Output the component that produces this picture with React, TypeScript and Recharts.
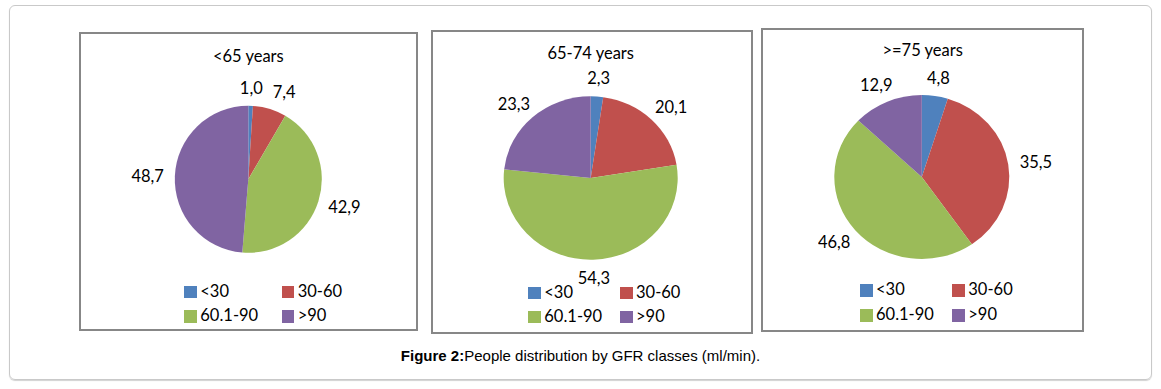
import React from 'react';
import { PieChart, Pie, Cell } from 'recharts';

// GFR classes (ml/min) and Excel default palette
const categories = ['<30', '30-60', '60.1-90', '>90'];
const colors = ['#4F81BD', '#C0504D', '#9BBB59', '#8064A2'];

const titles = ['<65 years', '65-74 years', '>=75 years'];

// % of people in each GFR class per age group
const under65 = [1.0, 7.4, 42.9, 48.7];
const age65to74 = [2.3, 20.1, 54.3, 23.3];
const over75 = [4.8, 35.5, 46.8, 12.9];

const FONT = 'Lato, "Open Sans", sans-serif';
const FS = 16.5;
const GAP = 11;

const fmt = (v: number) => v.toFixed(1).replace('.', ',');

const textWidth = (s: string) =>
  s.split('').reduce((w, ch) => w + (ch === ',' ? 0.23 : 0.58), 0) * FS;

// label offsets from the pie centre (screen px), pushed apart if two collide
function labelOffsets(values: number[], r: number, sx: number) {
  const total = values.reduce((a, b) => a + b, 0);
  let acc = 0;
  const boxes = values.map((v) => {
    const mid = ((acc + v / 2) / total) * 2 * Math.PI;
    acc += v;
    const dx = Math.sin(mid);
    const dy = -Math.cos(mid);
    const w = textWidth(fmt(v));
    const h = 14;
    return { x: dx * (r + GAP) * sx + (dx * w) / 2, y: dy * (r + GAP) + (dy * h) / 2, w, h };
  });
  for (let i = 1; i < boxes.length; i++) {
    const a = boxes[i - 1];
    const b = boxes[i];
    const need = (a.w + b.w) / 2 + 10;
    if (Math.abs(a.y - b.y) < (a.h + b.h) / 2 && Math.abs(a.x - b.x) < need) {
      b.x = a.x + (b.x >= a.x ? need : -need);
    }
  }
  return boxes;
}

const panels = [
  {
    values: under65, title: titles[0],
    box: { left: 79, top: 32, w: 339, h: 299 },
    pie: { x: 248.3, y: 179.3, r: 73.5, sx: 1 },
    titleX: 248.3, titleBase: 63.3,
    legendCols: [184.3, 281.7], legendBase: [298.3, 322.7],
  },
  {
    values: age65to74, title: titles[1],
    box: { left: 431, top: 30, w: 322, h: 304 },
    pie: { x: 590.7, y: 178, r: 81.7, sx: 1.065 },
    titleX: 590.7, titleBase: 60,
    legendCols: [528.3, 620], legendBase: [299.3, 323.3],
  },
  {
    values: over75, title: titles[2],
    box: { left: 761, top: 28, w: 323, h: 304 },
    pie: { x: 921.8, y: 177, r: 82, sx: 1.067 },
    titleX: 922.7, titleBase: 57.7,
    legendCols: [860, 952.3], legendBase: [296.7, 321.7],
  },
];

const BORDER = 2;

function Panel({ cfg }: { cfg: (typeof panels)[number] }) {
  const { box, pie } = cfg;
  const ox = box.left + BORDER;
  const oy = box.top + BORDER;
  const data = categories.map((name, i) => ({ name, value: cfg.values[i] }));
  const offsets = labelOffsets(cfg.values, pie.r, pie.sx);

  const renderLabel = (p: any) => {
    const o = offsets[p.index];
    return (
      <text
        key={`lbl-${p.index}`}
        x={p.cx * pie.sx + o.x}
        y={p.cy + o.y + 0.36 * FS}
        transform={`scale(${1 / pie.sx},1)`}
        textAnchor="middle"
        fontFamily={FONT}
        fontSize={FS}
        fill="#000"
      >
        {fmt(cfg.values[p.index])}
      </text>
    );
  };

  const lineH = FS * 1.2;
  return (
    <div
      style={{
        position: 'absolute', left: box.left, top: box.top, width: box.w, height: box.h,
        border: `${BORDER}px solid #878787`, boxSizing: 'border-box', background: '#fff',
      }}
    >
      <div style={{ position: 'absolute', left: 0, top: 0, transform: `scaleX(${pie.sx})`, transformOrigin: '0 0' }}>
        <PieChart
          width={(box.w - 2 * BORDER) / pie.sx}
          height={box.h - 2 * BORDER}
          margin={{ top: 0, right: 0, bottom: 0, left: 0 }}
        >
          <Pie
            data={data}
            dataKey="value"
            nameKey="name"
            cx={(pie.x - ox) / pie.sx}
            cy={pie.y - oy}
            outerRadius={pie.r}
            startAngle={90}
            endAngle={-270}
            stroke="none"
            label={renderLabel}
            labelLine={false}
            isAnimationActive={false}
          >
            {data.map((d, i) => (
              <Cell key={d.name} fill={colors[i]} />
            ))}
          </Pie>
        </PieChart>
      </div>
      <div
        style={{
          position: 'absolute', left: cfg.titleX - ox - 100, width: 200, textAlign: 'center',
          top: cfg.titleBase - oy - 0.987 * FS, lineHeight: `${lineH}px`,
          fontFamily: FONT, fontSize: FS, color: '#000', whiteSpace: 'nowrap',
        }}
      >
        {cfg.title}
      </div>
      {categories.map((c, i) => {
        const col = cfg.legendCols[i % 2];
        const base = cfg.legendBase[Math.floor(i / 2)];
        return (
          <div key={c}>
            <div
              style={{
                position: 'absolute', left: col - ox, top: base - 12.5 - oy,
                width: 12.5, height: 12.5, background: colors[i],
              }}
            />
            <div
              style={{
                position: 'absolute', left: col - ox + 16, top: base - oy - 0.987 * FS,
                lineHeight: `${lineH}px`, fontFamily: FONT, fontSize: FS, color: '#000', whiteSpace: 'nowrap',
              }}
            >
              {c}
            </div>
          </div>
        );
      })}
    </div>
  );
}

export default function App() {
  return (
    <div style={{ position: 'absolute', left: 0, top: 0, width: 1161, height: 389, background: '#fff' }}>
      <div
        style={{
          position: 'absolute', left: 9, top: 5, width: 1143, height: 375,
          border: '1px solid #c9c9c9', borderRadius: 6, boxSizing: 'border-box',
          boxShadow: '0 1px 1px rgba(0,0,0,0.18)',
        }}
      />
      {panels.map((p) => (
        <Panel key={p.title} cfg={p} />
      ))}
      <div
        style={{
          position: 'absolute', left: 0, width: 1161, top: 347, lineHeight: '17px',
          textAlign: 'center', fontFamily: '"Liberation Sans", Arial, sans-serif', fontSize: 15, color: '#000',
        }}
      >
        <b>Figure 2:</b>People distribution by GFR classes (ml/min).
      </div>
    </div>
  );
}
